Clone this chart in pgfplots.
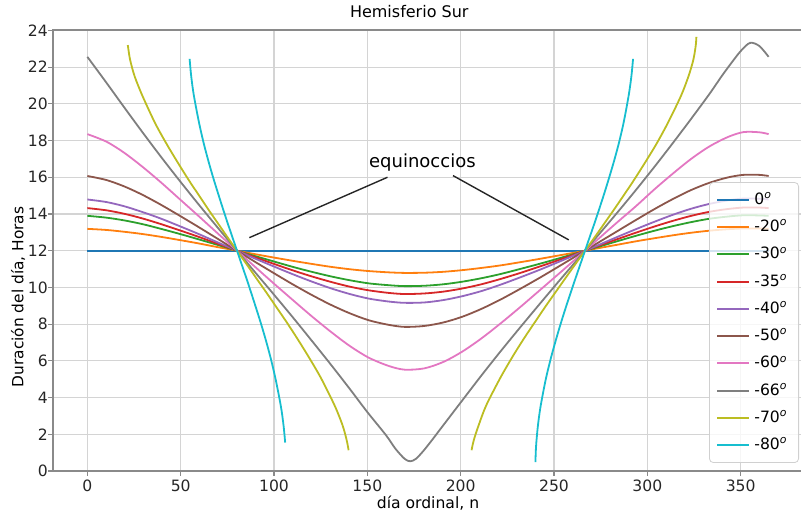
\documentclass[border=0pt]{standalone}
\usepackage{fontspec}
\setmainfont{DejaVu Sans}
\usepackage{pgfplots}
\pgfplotsset{compat=1.18}
\definecolor{c0}{HTML}{1F77B4}
\definecolor{c1}{HTML}{FF7F0E}
\definecolor{c2}{HTML}{2CA02C}
\definecolor{c3}{HTML}{D62728}
\definecolor{c4}{HTML}{9467BD}
\definecolor{c5}{HTML}{8C564B}
\definecolor{c6}{HTML}{E377C2}
\definecolor{c7}{HTML}{7F7F7F}
\definecolor{c8}{HTML}{BCBD22}
\definecolor{c9}{HTML}{17BECF}
\definecolor{gridc}{HTML}{D4D4D4}
\definecolor{spinec}{HTML}{8A8A8A}
\definecolor{legc}{HTML}{D0D0D0}
\newcommand{\dg}{\textsuperscript{\itshape o}}
\begin{document}
\begin{tikzpicture}
\begin{axis}[
  scale only axis, width=374.7pt, height=220.3pt,
  xmin=-18.25, xmax=383.25, ymin=0, ymax=24,
  xtick={0,50,...,350}, ytick={0,2,...,24},
  grid=major, grid style={line width=0.6pt, color=gridc},
  tick align=outside, tick pos=left, major tick length=2.5pt,
  tick style={color=spinec, line width=0.6pt},
  axis line style={line width=1pt, color=spinec},
  /pgf/number format/assume math mode=true,
  ticklabel style={font=\fontsize{7.8}{9}\selectfont, color=black!85},
  yticklabel style={xshift=3.3pt},
  xticklabel style={yshift=1.5pt},
  xlabel={día ordinal, n}, ylabel={Duración del día, Horas},
  xlabel style={at={(axis description cs:0.5,-0.0726)}, anchor=center, font=\fontsize{7.8}{9}\selectfont},
  ylabel style={at={(axis description cs:-0.047,0.395)}, anchor=center, font=\fontsize{7.7}{9}\selectfont},
  title={Hemisferio Sur},
  title style={at={(axis description cs:0.475,1)}, anchor=base, yshift=0.5pt, font=\fontsize{8}{10}\selectfont},
  legend style={at={(axis description cs:1,0)}, anchor=south east, xshift=-1.85pt, yshift=4pt,
    font=\fontsize{7.8}{9}\selectfont, draw=legc, rounded corners=2pt, fill=white, fill opacity=0.8,
    draw opacity=1, text opacity=1, row sep=2.25pt, inner xsep=3.5pt, inner ysep=3pt},
  legend cell align=left,
  legend image code/.code={\draw[#1, line width=1pt] (0pt,0pt) -- (16pt,0pt);},
  every axis plot/.append style={line width=0.9pt, smooth, tension=0.5},
]
\addplot[c0] coordinates {(0,12) (365,12)};
\addlegendentry{0\dg}
\addplot[c1] coordinates {(0,13.19) (10.2,13.13) (19.8,13.03) (29.4,12.91) (39.1,12.76) (48.9,12.59) (58.9,12.41) (69.0,12.21) (79.15,12.02) (89.4,11.82) (99.7,11.63) (110.0,11.45) (120.2,11.28) (130.5,11.12) (140.6,10.99) (150.8,10.89) (161.5,10.82) (170,10.79) (180.5,10.80) (190.7,10.85) (200.8,10.94) (211.1,11.06) (221.4,11.20) (231.7,11.37) (242.1,11.55) (252.55,11.74) (263.0,11.93) (273.4,12.13) (283.7,12.32) (293.85,12.51) (303.9,12.68) (313.8,12.84) (323.6,12.98) (333.3,13.09) (343.1,13.17) (351.5,13.21) (360,13.21) (365,13.19)};
\addlegendentry{-20\dg}
\addplot[c2] coordinates {(0,13.90) (10.2,13.80) (19.8,13.65) (29.4,13.45) (39.1,13.20) (48.9,12.93) (58.9,12.64) (69.0,12.34) (79.15,12.03) (89.4,11.72) (99.7,11.42) (110,11.12) (120.2,10.85) (130.5,10.60) (140.6,10.39) (150.8,10.22) (161.5,10.12) (170,10.07) (180.5,10.09) (190.7,10.17) (200.8,10.31) (211.1,10.50) (221.4,10.73) (231.7,11.00) (242.1,11.28) (252.55,11.58) (263,11.89) (273.4,12.20) (283.7,12.51) (293.85,12.81) (303.9,13.09) (313.8,13.34) (323.6,13.56) (333.3,13.74) (343.1,13.86) (351.5,13.93) (360,13.92) (365,13.90)};
\addlegendentry{-30\dg}
\addplot[c3] coordinates {(0,14.32) (10.2,14.20) (19.8,14.01) (29.4,13.76) (39.1,13.46) (48.9,13.13) (58.9,12.78) (69,12.41) (79.15,12.04) (89.4,11.66) (99.7,11.29) (110,10.93) (120.2,10.60) (130.5,10.30) (140.6,10.04) (150.8,9.84) (161.5,9.70) (170,9.64) (180.5,9.67) (190.7,9.77) (200.8,9.94) (211.1,10.17) (221.4,10.46) (231.7,10.78) (242.1,11.13) (252.55,11.49) (263,11.87) (273.4,12.25) (283.7,12.62) (293.85,12.98) (303.9,13.32) (313.8,13.63) (323.6,13.90) (333.3,14.12) (343.1,14.27) (351.5,14.35) (360,14.35) (365,14.32)};
\addlegendentry{-35\dg}
\addplot[c4] coordinates {(0,14.79) (10.2,14.65) (19.8,14.42) (29.4,14.11) (39.1,13.76) (48.9,13.36) (58.9,12.94) (69,12.49) (79.15,12.05) (89.4,11.59) (99.7,11.15) (110,10.72) (120.2,10.32) (130.5,9.95) (140.6,9.64) (150.8,9.39) (161.5,9.23) (170,9.16) (180.5,9.18) (190.7,9.31) (200.8,9.52) (211.1,9.80) (221.4,10.15) (231.7,10.54) (242.1,10.95) (252.55,11.39) (263,11.84) (273.4,12.29) (283.7,12.74) (293.85,13.17) (303.9,13.58) (313.8,13.96) (323.6,14.29) (333.3,14.55) (343.1,14.74) (351.5,14.84) (360,14.83) (365,14.79)};
\addlegendentry{-40\dg}
\addplot[c5] coordinates {(0,16.07) (10.2,15.85) (19.8,15.50) (29.4,15.05) (39.1,14.52) (48.9,13.94) (58.9,13.33) (69,12.70) (79.15,12.06) (89.4,11.42) (99.7,10.79) (110,10.17) (120.2,9.59) (130.5,9.05) (140.6,8.59) (150.8,8.21) (161.5,7.96) (170,7.85) (180.5,7.90) (190.7,8.09) (200.8,8.40) (211.1,8.83) (221.4,9.34) (231.7,9.91) (242.1,10.51) (252.55,11.14) (263,11.78) (273.4,12.42) (283.7,13.05) (293.85,13.67) (303.9,14.27) (313.8,14.82) (323.6,15.31) (333.3,15.70) (343.1,15.99) (351.5,16.13) (360,16.13) (365,16.07)};
\addlegendentry{-50\dg}
\addplot[c6] coordinates {(0,18.35) (10.2,17.94) (19.8,17.33) (29.4,16.58) (39.1,15.75) (48.9,14.86) (58.9,13.95) (69,13.02) (79.15,12.09) (89.4,11.16) (99.7,10.23) (110,9.32) (120.2,8.43) (130.5,7.58) (140.6,6.81) (150.8,6.17) (161.5,5.72) (170,5.52) (180.5,5.59) (190.7,5.94) (200.8,6.50) (211.1,7.22) (221.4,8.04) (231.7,8.91) (242.1,9.82) (252.55,10.74) (263,11.67) (273.4,12.61) (283.7,13.53) (293.85,14.42) (303.9,15.35) (313.8,16.21) (323.6,17.01) (333.3,17.68) (343.1,18.19) (351.5,18.46) (360,18.45) (365,18.35)};
\addlegendentry{-60\dg}
\addplot[c7] coordinates {(0,22.56) (10,21.18) (19.8,19.80) (29.4,18.47) (39.1,17.16) (48.9,15.88) (58.9,14.61) (69,13.36) (79.15,12.12) (89.4,10.88) (99.7,9.64) (110,8.38) (120.2,7.10) (130.5,5.79) (140.6,4.47) (150,3.21) (160,1.95) (165,1.22) (170,0.66) (173,0.53) (176,0.66) (180,1.09) (185,1.73) (190,2.40) (200,3.73) (211.1,5.20) (221.4,6.52) (231.7,7.80) (242.1,9.07) (252.55,10.33) (263,11.57) (273.4,12.81) (283.7,14.05) (293.85,15.30) (303.9,16.58) (313.8,17.88) (323.6,19.20) (333.3,20.54) (340,21.53) (345,22.22) (350,22.87) (355,23.32) (360,23.15) (365,22.56)};
\addlegendentry{-66\dg}
\addplot[c8] coordinates {(21.66,23.20) (22.49,22.62) (23.32,22.22) (25.39,21.48) (29.53,20.43) (36.39,18.93) (42.77,17.76) (48.69,16.76) (54.23,15.86) (59.67,15.03) (64.86,14.24) (70.03,13.48) (75.10,12.73) (80.17,12) (85.27,11.27) (90.38,10.52) (95.64,9.76) (100.96,8.97) (106.54,8.14) (112.31,7.24) (118.41,6.24) (125.12,5.07) (132.46,3.57) (136.62,2.52) (138.70,1.78) (139.53,1.38) (139.95,1.13)};
\addlegendentry{-70\dg}
\addplot[c8, forget plot] coordinates {(205.85,1.13) (206.33,1.38) (207.31,1.78) (209.74,2.52) (213.67,3.57) (221.23,5.07) (227.88,6.24) (234.05,7.24) (239.99,8.14) (245.50,8.97) (250.97,9.76) (256.24,10.52) (261.48,11.27) (266.63,12) (271.78,12.73) (276.94,13.48) (282.16,14.24) (287.46,15.03) (292.92,15.86) (298.54,16.76) (304.56,17.76) (310.86,18.93) (318.02,20.43) (321.99,21.48) (324.21,22.22) (325.10,22.62) (325.98,23.20) (326.3,23.65)};
\addplot[c9] coordinates {(54.78,22.45) (55.59,21.55) (56.95,20.52) (59.67,19.05) (62.27,17.88) (64.86,16.88) (67.44,15.97) (70.03,15.12) (72.56,14.31) (75.10,13.52) (77.63,12.76) (80.17,12) (82.72,11.24) (85.27,10.48) (87.82,9.69) (90.38,8.88) (93.01,8.03) (95.64,7.12) (98.28,6.12) (100.96,4.95) (103.75,3.48) (105.14,2.45) (105.98,1.55)};
\addlegendentry{-80\dg}
\addplot[c9, forget plot] coordinates {(240.06,0.48) (240.26,1.09) (240.54,1.55) (241.37,2.45) (242.75,3.48) (245.50,4.95) (248.26,6.12) (250.97,7.12) (253.61,8.03) (256.24,8.88) (258.88,9.69) (261.48,10.48) (264.05,11.24) (266.63,12) (269.20,12.76) (271.78,13.52) (274.36,14.31) (276.94,15.12) (279.52,15.97) (282.16,16.88) (284.81,17.88) (287.46,19.05) (290.12,20.52) (291.52,21.55) (292.36,22.45)};
\node[font=\fontsize{9}{11}\selectfont, inner sep=0pt] at (axis cs:179.5,16.78) {equinoccios};
\draw[line width=0.7pt, black!85] (axis cs:160.8,16.0) -- (axis cs:86.8,12.71);
\draw[line width=0.7pt, black!85] (axis cs:195.9,16.09) -- (axis cs:257.9,12.59);
\end{axis}
\pgfresetboundingbox
\path[use as bounding box] ([shift={(-26.65pt,-21.5pt)}]current axis.south west) rectangle ([shift={(-0.85pt,15.2pt)}]current axis.north east);
\end{tikzpicture}
\end{document}
